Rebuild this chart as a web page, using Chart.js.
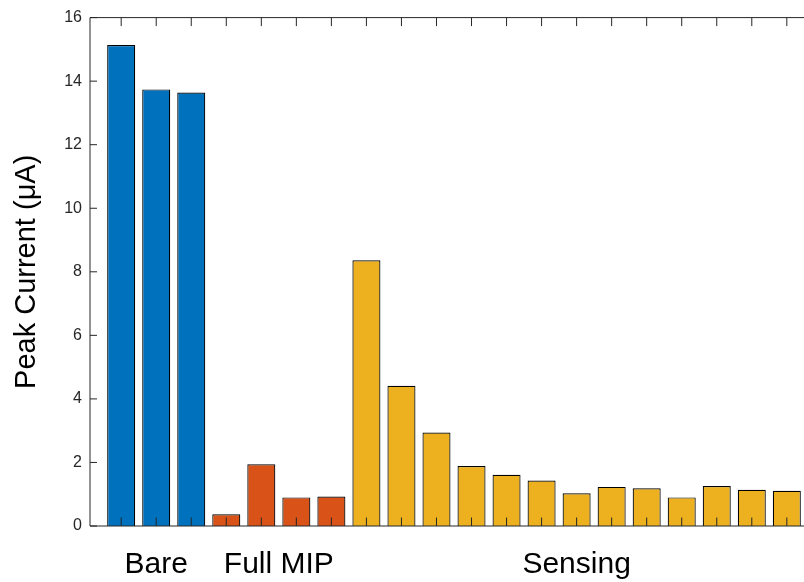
<!DOCTYPE html>
<html><head><meta charset="utf-8">
<script src="https://cdn.jsdelivr.net/npm/chart.js@4"></script>
<style>html,body{margin:0;padding:0;background:#fff;overflow:hidden}canvas{display:block}</style>
</head><body>
<canvas id="c" width="818" height="582"></canvas>
<script>
const groups = ['Bare', 'Full MIP', 'Sensing'];
const bareValues = [15.14, 13.74, 13.64];
const fullMipValues = [0.37, 1.94, 0.90, 0.93];
const sensingValues = [8.36, 4.41, 2.94, 1.89, 1.61, 1.43, 1.03, 1.23, 1.19, 0.90, 1.26, 1.14, 1.11];
const yTicks = [0, 2, 4, 6, 8, 10, 12, 14, 16];
const groupColors = ['#0072BD', '#D95319', '#EDB120'];

const groupValues = [bareValues, fullMipValues, sensingValues];
const points = [], colors = [], positions = [], groupCenters = [];
let pos = 1;
groupValues.forEach((vals, g) => {
  const start = pos;
  vals.forEach(v => {
    points.push({x: pos, y: v});
    colors.push(groupColors[g]);
    positions.push(pos);
    pos++;
  });
  groupCenters.push((start + pos - 1) / 2);
});

const FONT = '"Liberation Sans", Arial, Helvetica, sans-serif';

const axesPlugin = {
  id: 'axesPlugin',
  afterDatasetsDraw(chart) {
    const {ctx, chartArea: a, scales: {x, y}} = chart;
    ctx.save();
    ctx.strokeStyle = '#262626';
    ctx.lineWidth = 1;
    ctx.beginPath();
    ctx.moveTo(a.left, a.bottom); ctx.lineTo(a.left, a.top); ctx.lineTo(a.right, a.top);
    ctx.moveTo(a.left, a.bottom); ctx.lineTo(a.right, a.bottom);
    positions.forEach(p => {
      const px = x.getPixelForValue(p);
      ctx.moveTo(px, a.bottom); ctx.lineTo(px, a.bottom - 8.5);
      ctx.moveTo(px, a.top); ctx.lineTo(px, a.top + 8.5);
    });
    yTicks.forEach(v => {
      const py = y.getPixelForValue(v);
      ctx.moveTo(a.left, py); ctx.lineTo(a.left + 7, py);
    });
    ctx.stroke();
    ctx.restore();
  }
};

new Chart(document.getElementById('c'), {
  type: 'bar',
  data: {
    datasets: [{
      data: points,
      backgroundColor: colors,
      borderColor: '#000000',
      borderWidth: 1.2,
      categoryPercentage: 1,
      barPercentage: 0.8
    }]
  },
  options: {
    responsive: false,
    animation: false,
    layout: {padding: {top: 16, left: 0, right: 0, bottom: 0}},
    plugins: {legend: {display: false}, tooltip: {enabled: false}},
    scales: {
      x: {
        type: 'linear',
        min: 0.11,
        max: 20.89,
        offset: false,
        grid: {display: false, drawTicks: false},
        border: {display: false},
        afterBuildTicks: s => { s.ticks = groupCenters.map(v => ({value: v})); },
        afterFit: s => { s.height = 56; },
        ticks: {
          autoSkip: false,
          maxRotation: 0,
          padding: 21,
          color: '#000',
          font: {family: FONT, size: 30},
          callback: (v, i) => groups[i]
        }
      },
      y: {
        min: 0,
        max: 16,
        grid: {display: false, drawTicks: false},
        border: {display: false},
        afterBuildTicks: s => { s.ticks = yTicks.map(v => ({value: v})); },
        afterFit: s => { s.width = 90; },
        ticks: {
          padding: 8,
          color: '#262626',
          font: {family: FONT, size: 16}
        },
        title: {
          display: true,
          text: 'Peak Current (μA)',
          color: '#000',
          font: {family: FONT, size: 29},
          padding: {top: 10, bottom: 0}
        }
      }
    }
  },
  plugins: [axesPlugin]
});
</script>
</body></html>
